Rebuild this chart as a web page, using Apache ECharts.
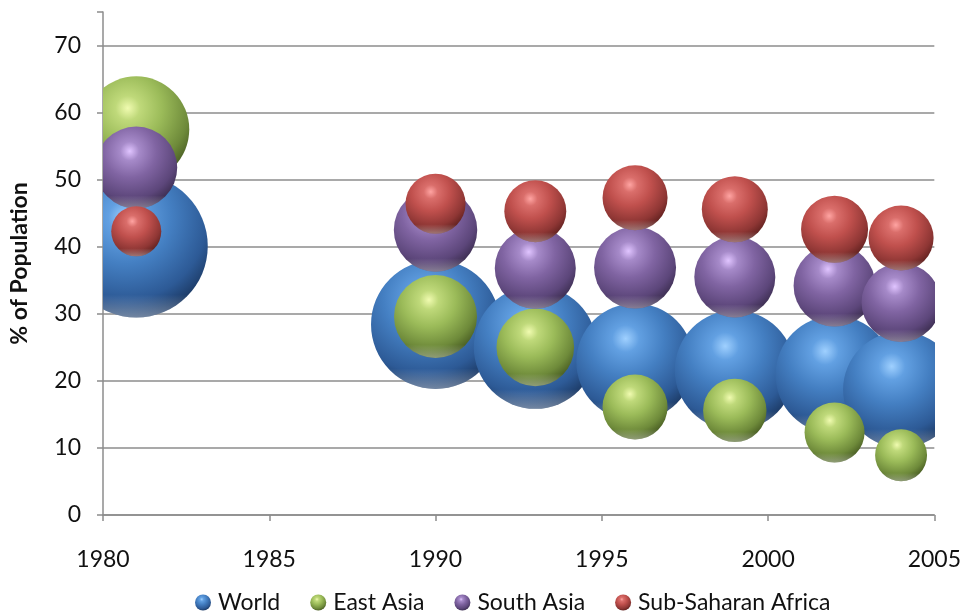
<!DOCTYPE html>
<html>
<head>
<meta charset="utf-8">
<script src="https://cdn.jsdelivr.net/npm/echarts@6/dist/echarts.min.js"></script>
<style>
  html, body { margin: 0; padding: 0; background: #ffffff; }
  #chart { width: 964px; height: 615px; }
</style>
</head>
<body>
<div id="chart"></div>
<script>
// Survey years on the x axis
const years = [1981, 1990, 1993, 1996, 1999, 2002, 2004];

// Share of population in poverty (%)
const worldPct      = [40.1, 28.4, 25.0, 22.8, 21.6, 20.9, 18.7];
const eastAsiaPct   = [57.5, 29.6, 25.0, 16.1, 15.6, 12.3, 8.9];
const southAsiaPct  = [51.8, 42.5, 36.8, 36.9, 35.5, 34.2, 31.7];
const ssAfricaPct   = [42.3, 46.4, 45.3, 47.3, 45.6, 42.6, 41.3];

// Number of poor people (millions) -> bubble area
const worldPoor     = [1470, 1196, 1087, 991, 1035, 1001, 967];
const eastAsiaPoor  = [808, 495, 433, 304, 289, 259, 194];
const southAsiaPoor = [483, 500, 472, 483, 472, 483, 449];
const ssAfricaPoor  = [180, 259, 276, 304, 313, 323, 304];

// Axis ticks
const xTicks = [1980, 1985, 1990, 1995, 2000, 2005];
const yTicks = [0, 10, 20, 30, 40, 50, 60, 70];

const seriesNames = ['World', 'East Asia', 'South Asia', 'Sub-Saharan Africa'];

// Bubble radius in px per sqrt(million people)
const BUBBLE_SCALE = 1.865;

const palettes = {
  'World':              { hi: '#9fd0ff', light: '#62a0e2', base: '#447fc2', dark: '#2d5a96', edge: '#1b3862' },
  'East Asia':          { hi: '#f0fbb0', light: '#bfd97a', base: '#9bbb59', dark: '#6e8a3a', edge: '#475b22' },
  'South Asia':         { hi: '#e0c4ff', light: '#a68ac9', base: '#8064a2', dark: '#5c467a', edge: '#3a2c4e' },
  'Sub-Saharan Africa': { hi: '#ffa4a2', light: '#da6e6b', base: '#c0504d', dark: '#8e3634', edge: '#5e201e' }
};

function sphereFill(p) {
  return {
    type: 'radial', x: 0.42, y: 0.3, r: 0.72,
    colorStops: [
      { offset: 0, color: p.hi },
      { offset: 0.16, color: p.light },
      { offset: 0.45, color: p.base },
      { offset: 0.8, color: p.dark },
      { offset: 1, color: p.edge }
    ]
  };
}

const rimFill = {
  type: 'linear', x: 0, y: 0, x2: 0, y2: 1,
  colorStops: [
    { offset: 0, color: 'rgba(255,255,255,0)' },
    { offset: 0.84, color: 'rgba(255,255,255,0)' },
    { offset: 1, color: 'rgba(255,255,255,0.38)' }
  ]
};

function buildData(pct, poor) {
  return years.map((y, i) => [y, pct[i], poor[i]]);
}

function bubbleSeries(name, pct, poor) {
  const pal = palettes[name];
  return {
    name: name,
    type: 'custom',
    clip: true,
    itemStyle: { color: sphereFill(pal) },
    encode: { x: 0, y: 1 },
    data: buildData(pct, poor),
    renderItem: function (params, api) {
      const c = api.coord([api.value(0), api.value(1)]);
      const r = BUBBLE_SCALE * Math.sqrt(api.value(2));
      return {
        type: 'group',
        children: [
          { type: 'circle', shape: { cx: c[0], cy: c[1], r: r }, style: { fill: sphereFill(pal) } },
          { type: 'circle', shape: { cx: c[0], cy: c[1], r: r }, style: { fill: rimFill } }
        ]
      };
    }
  };
}

const FONT = 'Lato, "Open Sans", sans-serif';
const AXIS_GRAY = '#8c8c8c';

const chart = echarts.init(document.getElementById('chart'), null, { renderer: 'canvas' });

chart.setOption({
  animation: false,
  backgroundColor: '#ffffff',
  grid: { left: 103, right: 29, top: 12, bottom: 100, containLabel: false },
  xAxis: {
    type: 'value',
    min: xTicks[0],
    max: xTicks[xTicks.length - 1],
    interval: 5,
    axisLine: { show: true, onZero: false, lineStyle: { color: AXIS_GRAY, width: 1.5 } },
    axisTick: { show: true, length: 6, lineStyle: { color: AXIS_GRAY, width: 1.5 } },
    splitLine: { show: false },
    axisLabel: {
      margin: 33,
      color: '#111',
      fontFamily: FONT,
      fontSize: 23,
      formatter: v => String(v)
    }
  },
  yAxis: {
    type: 'value',
    min: 0,
    max: 75,
    interval: 10,
    name: '% of Population',
    nameLocation: 'middle',
    nameRotate: 90,
    nameGap: 72,
    nameTextStyle: { fontFamily: FONT, fontSize: 23, fontWeight: 'bold', color: '#111' },
    axisLine: { show: true, lineStyle: { color: AXIS_GRAY, width: 1.5 } },
    axisTick: { show: true, length: 6, lineStyle: { color: AXIS_GRAY, width: 1.5 } },
    splitLine: { show: true, showMaxLine: false, lineStyle: { color: AXIS_GRAY, width: 1.5 } },
    axisLabel: {
      margin: 22,
      color: '#111',
      fontFamily: FONT,
      fontSize: 23,
      formatter: v => (yTicks.indexOf(v) >= 0 ? String(v) : '')
    }
  },
  legend: {
    left: 190,
    top: 586,
    itemWidth: 16,
    itemHeight: 18,
    itemGap: 30,
    icon: 'circle',
    textStyle: { fontFamily: FONT, fontSize: 23, color: '#111', padding: [0, 0, 0, 2] },
    data: seriesNames
  },
  series: [
    bubbleSeries('World', worldPct, worldPoor),
    bubbleSeries('East Asia', eastAsiaPct, eastAsiaPoor),
    bubbleSeries('South Asia', southAsiaPct, southAsiaPoor),
    bubbleSeries('Sub-Saharan Africa', ssAfricaPct, ssAfricaPoor)
  ]
});
</script>
</body>
</html>
